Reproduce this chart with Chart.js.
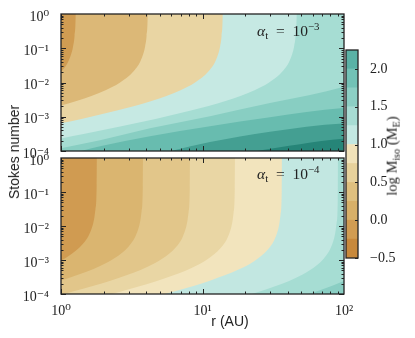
<!DOCTYPE html>
<html><head><meta charset="utf-8">
<script src="https://cdn.jsdelivr.net/npm/chart.js@4.4.1/dist/chart.umd.min.js"></script>
<style>
html,body{margin:0;padding:0;background:#fff;}
#wrap{position:relative;width:415px;height:338px;overflow:hidden;}
canvas{position:absolute;left:0;top:0;}
.lbl{position:absolute;white-space:nowrap;color:#222;line-height:1;}
.rot{transform:translate(-50%,-50%) rotate(-90deg);}
.sans{font-family:"Liberation Sans",Arial,sans-serif;font-size:14px;}
.serif{font-family:"Liberation Serif","DejaVu Serif",serif;}
.alpha{font-size:15.5px;transform:translate(0,-50%);}
.alpha sub{font-size:0.7em;vertical-align:-0.25em;}
.alpha sup{font-size:0.7em;vertical-align:0.55em;}
.cbt{font-size:14.5px;}
.cbt sub{font-size:0.7em;vertical-align:-0.25em;}
</style></head><body>
<div id="wrap">
<canvas id="top" width="415" height="338" style="width:415px;height:338px"></canvas>
<canvas id="bot" width="415" height="338" style="width:415px;height:338px"></canvas>
<canvas id="cb" width="415" height="338" style="width:415px;height:338px"></canvas>
<div class="lbl sans rot" style="left:14px;top:152px;">Stokes number</div>
<div class="lbl sans" style="left:230px;top:321px;transform:translate(-50%,-50%);">r (AU)</div>
<div class="lbl serif cbt rot" style="left:393px;top:156px;">log M<sub>iso</sub> (M<sub>E</sub>)</div>
<div class="lbl serif alpha" style="left:257px;top:31px;"><i>α</i><sub>t</sub>&nbsp;&nbsp;=&nbsp;&nbsp;10<sup>−3</sup></div>
<div class="lbl serif alpha" style="left:257px;top:174px;"><i>α</i><sub>t</sub>&nbsp;&nbsp;=&nbsp;&nbsp;10<sup>−4</sup></div>
</div>
<script>
// axis ranges and ticks
const rRange = [1, 100];
const stRange = [1e-4, 1];
const xTickValues = [1, 10, 100];
const xTickLabels = ['10⁰', '10¹', '10²'];
const yTickValues = [1e-4, 1e-3, 1e-2, 1e-1, 1];
const yTickLabels = ['10⁻⁴', '10⁻³', '10⁻²', '10⁻¹', '10⁰'];

// contour boundaries, pairs of [log10 r (AU), log10 Stokes], alpha_t = 1e-3 panel
const topA = [[-0.094,-2.006],[0.006,-1.665],[0.056,-1.345],[0.086,-0.935],[0.096,-0.630],[0.104,0.072],[0.106,1]];
const topB = [[-0.135,-2.819],[0.115,-2.530],[0.315,-2.223],[0.415,-2.006],[0.515,-1.665],[0.565,-1.345],[0.595,-0.935],[0.605,-0.630],[0.613,0.072],[0.615,1]];
const topC = [[-0.355,-3.495],[0.145,-3.063],[0.395,-2.819],[0.645,-2.530],[0.845,-2.223],[0.945,-2.006],[1.045,-1.665],[1.095,-1.345],[1.125,-0.935],[1.135,-0.630],[1.143,0.072],[1.145,1]];
const topD = [[-0.332,-3.896],[0.168,-3.495],[0.668,-3.063],[0.918,-2.819],[1.168,-2.530],[1.368,-2.223],[1.468,-2.006],[1.568,-1.665],[1.618,-1.345],[1.648,-0.935],[1.658,-0.630],[1.666,0.072],[1.668,1]];
const topE = [[-0.1,-4.02],[0,-3.921],[0.276,-3.686],[0.629,-3.334],[1.053,-2.982],[1.477,-2.601],[1.760,-2.367],[1.993,-2.132],[2.113,-1.780],[2.205,1]];
const topF = [[-0.1,-4.25],[0.134,-4.009],[0.276,-3.862],[0.629,-3.569],[1.053,-3.275],[1.477,-3.012],[1.993,-2.748],[2.396,-2.367],[2.728,1]];
const topG = [[-0.1,-4.9],[0.5,-4.3],[0.770,-4.009],[1.053,-3.74],[1.477,-3.44],[1.993,-3.20],[2.749,-2.806],[3.251,1]];
const topH = [[-0.1,-5.3],[1.0,-4.35],[1.371,-4.009],[1.689,-3.80],[1.993,-3.64],[2.749,-3.334],[3.774,1]];

// contour boundaries, alpha_t = 1e-4 panel
const botP = [[-0.046,-3.108],[0.054,-2.882],[0.154,-2.533],[0.204,-2.208],[0.234,-1.796],[0.244,-1.491],[0.252,-0.788],[0.254,1]];
const botQ = [[-0.170,-3.811],[0.080,-3.495],[0.280,-3.168],[0.380,-2.942],[0.480,-2.593],[0.530,-2.268],[0.560,-1.856],[0.570,-1.551],[0.578,-0.848],[0.580,1]];
const botR = [[-0.088,-4.114],[0.162,-3.841],[0.412,-3.525],[0.612,-3.198],[0.712,-2.972],[0.812,-2.623],[0.862,-2.298],[0.892,-1.886],[0.902,-1.581],[0.910,-0.878],[0.912,1]];
const botS = [[-0.270,-4.632],[0.230,-4.134],[0.480,-3.861],[0.730,-3.545],[0.930,-3.218],[1.030,-2.992],[1.130,-2.643],[1.180,-2.318],[1.210,-1.906],[1.220,-1.601],[1.228,-0.898],[1.230,1]];
const botU = [[-0.438,-5.154],[0.062,-4.682],[0.562,-4.184],[0.812,-3.911],[1.062,-3.595],[1.262,-3.268],[1.362,-3.042],[1.462,-2.693],[1.512,-2.368],[1.542,-1.956],[1.552,-1.651],[1.560,-0.948],[1.562,1]];
const botV = [[-0.542,-5.878],[-0.042,-5.414],[0.458,-4.942],[0.958,-4.444],[1.208,-4.171],[1.458,-3.855],[1.658,-3.528],[1.758,-3.302],[1.858,-2.953],[1.908,-2.628],[1.938,-2.216],[1.948,-1.911],[1.956,-1.208],[1.958,1]];
const botW = [[-0.175,-5.918],[0.325,-5.454],[0.825,-4.982],[1.325,-4.484],[1.575,-4.211],[1.825,-3.895],[2.025,-3.568],[2.125,-3.342],[2.225,-2.993],[2.325,1]];

// band colours (region above/left of each boundary), last = remaining area
const topColors = ['#d09c52','#dcb877','#e9d5a3','#c6e9e3','#a6ddd3','#88cec2','#68bcaf','#449f92','#268578'];
const botColors = ['#d09b51','#dab570','#e2c68a','#e9d6a4','#f2e4bd','#c2e7e1','#a6ddd3','#8acec3'];

// colour bar
const cbLevels = [-0.5,-0.25,0,0.25,0.5,0.75,1.0,1.25,1.5,1.75,2.0,2.25];
const cbColors = ['#c8893c','#d19c52','#d8b068','#dfc07f','#e7d19b','#f1e2b9','#c3e8e2','#a7dcd3','#8ccfc4','#72c2b6','#5ab2a6'];
const cbTickValues = [-0.5,0,0.5,1.0,1.5,2.0];
const cbTickLabels = ['−0.5','0.0','0.5','1.0','1.5','2.0'];

const serifFont = {family:'"Liberation Serif","DejaVu Serif",serif', size:14};
const inkColor = '#222';

function toPoints(pairs){ return pairs.map(p => ({x: Math.pow(10,p[0]), y: Math.pow(10,p[1])})); }

const frameTicks = {
  id: 'frameTicks',
  beforeDatasetsDraw(chart, args, opts) {
    const a = chart.chartArea, ctx = chart.ctx;
    ctx.save(); ctx.fillStyle = opts.base;
    ctx.fillRect(a.left, a.top, a.right - a.left, a.bottom - a.top); ctx.restore();
  },
  afterDraw(chart) {
    const a = chart.chartArea, ctx = chart.ctx, xs = chart.scales.x, ys = chart.scales.y;
    ctx.save();
    ctx.strokeStyle = inkColor; ctx.lineWidth = 1;
    const seg = (x1,y1,x2,y2) => { ctx.beginPath(); ctx.moveTo(x1,y1); ctx.lineTo(x2,y2); ctx.stroke(); };
    for (let e = Math.log10(rRange[0]); e < Math.log10(rRange[1]); e++) {
      for (let k = 1; k <= 9; k++) {
        const px = Math.round(xs.getPixelForValue(k * Math.pow(10, e))) + 0.5;
        const len = k === 1 ? 5 : 2.5;
        seg(px, a.bottom, px, a.bottom - len); seg(px, a.top, px, a.top + len);
      }
    }
    for (let e = Math.log10(stRange[0]); e < Math.log10(stRange[1]); e++) {
      for (let k = 1; k <= 9; k++) {
        const py = Math.round(ys.getPixelForValue(k * Math.pow(10, e))) + 0.5;
        const len = k === 1 ? 5 : 2.5;
        seg(a.left, py, a.left + len, py); seg(a.right, py, a.right - len, py);
      }
    }
    ctx.lineWidth = 1.3;
    ctx.strokeRect(a.left, a.top, a.right - a.left, a.bottom - a.top);
    ctx.restore();
  }
};

function makePanel(id, boundaries, colors, padTop, padBottom, showX) {
  const datasets = boundaries.map((b, i) => ({
    data: toPoints(b),
    backgroundColor: colors[i],
    borderColor: 'transparent',
    borderWidth: 0,
    pointRadius: 0,
    fill: 'end',
    cubicInterpolationMode: 'monotone'
  }));
  return new Chart(document.getElementById(id), {
    type: 'line',
    data: { datasets },
    plugins: [frameTicks],
    options: {
      responsive: false, animation: false, devicePixelRatio: 1, events: [],
      layout: { padding: { left: 0, right: 71, top: padTop, bottom: padBottom } },
      plugins: { legend: {display:false}, tooltip: {enabled:false}, frameTicks: { base: colors[colors.length - 1] } },
      scales: {
        x: {
          type: 'logarithmic', min: rRange[0], max: rRange[1], display: showX,
          afterBuildTicks: s => { s.ticks = xTickValues.map(v => ({value: v})); },
          afterFit: s => { s.height = showX ? 30 : 0; },
          grid: {display:false}, border: {display:false},
          ticks: { autoSkip:false, maxRotation:0, padding: 1, color: inkColor, font: serifFont,
                   callback: v => xTickLabels[xTickValues.indexOf(v)] }
        },
        y: {
          type: 'logarithmic', min: stRange[0], max: stRange[1],
          afterBuildTicks: s => { s.ticks = yTickValues.map(v => ({value: v})); },
          afterFit: s => { s.width = 61; },
          grid: {display:false}, border: {display:false},
          ticks: { autoSkip:false, padding: 4, color: inkColor, font: serifFont, labelOffset: 3,
                   callback: v => yTickLabels[yTickValues.indexOf(v)] }
        }
      }
    }
  });
}

makePanel('top', [topA, topB, topC, topD, topE, topF, topG, topH], topColors, 14, 187, false);
makePanel('bot', [botP, botQ, botR, botS, botU, botV, botW], botColors, 158, 14, true);

const cbFrame = {
  id: 'cbFrame',
  afterDraw(chart) {
    const a = chart.chartArea, ctx = chart.ctx, ys = chart.scales.y;
    ctx.save(); ctx.strokeStyle = inkColor; ctx.lineWidth = 1;
    cbTickValues.forEach(v => {
      const py = Math.round(ys.getPixelForValue(v)) + 0.5;
      ctx.beginPath(); ctx.moveTo(a.right, py); ctx.lineTo(a.right - 3, py); ctx.stroke();
    });
    ctx.lineWidth = 1.3;
    ctx.strokeRect(a.left, a.top, a.right - a.left, a.bottom - a.top);
    ctx.restore();
  }
};

new Chart(document.getElementById('cb'), {
  type: 'bar',
  data: {
    labels: [''],
    datasets: cbColors.map((c, i) => ({ data: [[cbLevels[i], cbLevels[i+1]]], backgroundColor: c, borderWidth: 0 }))
  },
  plugins: [cbFrame],
  options: {
    responsive: false, animation: false, devicePixelRatio: 1, events: [],
    datasets: { bar: { grouped: false, barPercentage: 1, categoryPercentage: 1 } },
    layout: { padding: { left: 346, right: 0, top: 50, bottom: 80 } },
    plugins: { legend: {display:false}, tooltip: {enabled:false} },
    scales: {
      x: { display: false },
      y: {
        position: 'right', min: cbLevels[0], max: cbLevels[cbLevels.length - 1],
        afterBuildTicks: s => { s.ticks = cbTickValues.map(v => ({value: v})); },
        afterFit: s => { s.width = 57; },
        grid: {display:false}, border: {display:false},
        ticks: { padding: 4, color: inkColor, font: serifFont, autoSkip: false,
                 callback: v => cbTickLabels[cbTickValues.indexOf(v)] }
      }
    }
  }
});
</script>
</body></html>
